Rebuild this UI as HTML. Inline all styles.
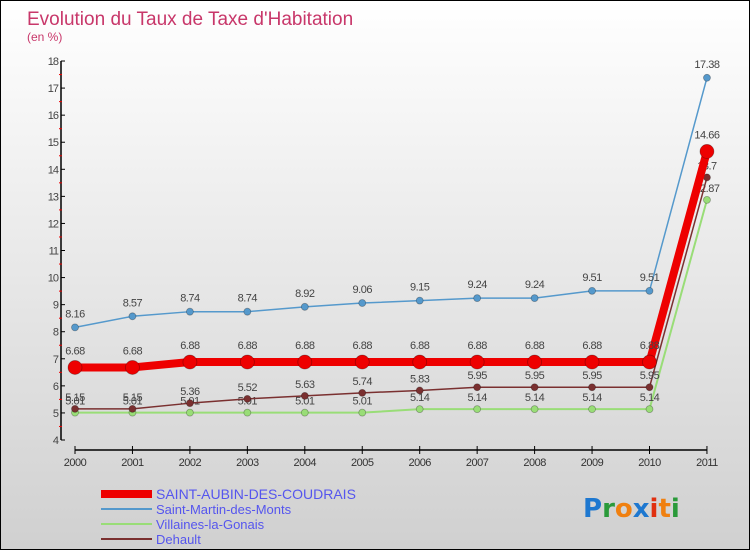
<!DOCTYPE html>
<html><head><meta charset="utf-8"><style>
body{margin:0}
#c{width:750px;height:550px;position:relative;box-sizing:border-box;border:1px solid #000;background:linear-gradient(#fff,#d0d0d0);font-family:"Liberation Sans",sans-serif;overflow:hidden}
</style></head><body>
<div id="c">
<svg id="s" width="748" height="548" style="position:absolute;left:0;top:0"></svg>
</div>
<script>
const years=["2000","2001","2002","2003","2004","2005","2006","2007","2008","2009","2010","2011"];
const aubin=[6.68,6.68,6.88,6.88,6.88,6.88,6.88,6.88,6.88,6.88,6.88,14.66];
const martin=[8.16,8.57,8.74,8.74,8.92,9.06,9.15,9.24,9.24,9.51,9.51,17.38];
const villaines=[5.01,5.01,5.01,5.01,5.01,5.01,5.14,5.14,5.14,5.14,5.14,12.87];
const dehault=[5.15,5.15,5.36,5.52,5.63,5.74,5.83,5.95,5.95,5.95,5.95,13.7];
const yTicks=[4,5,6,7,8,9,10,11,12,13,14,15,16,17,18];
const NS="http://www.w3.org/2000/svg";
const svg=document.getElementById('s');
function X(i){return 74+i*57.45;}
function Y(v){return 439-(v-4)*27.07;}
function el(t,a,txt){const e=document.createElementNS(NS,t);for(const k in a)e.setAttribute(k,a[k]);if(txt!==undefined)e.textContent=txt;svg.appendChild(e);return e;}
let e;
e=el('text',{x:26,y:24,'font-size':19,fill:'#c8376a'},"Evolution du Taux de Taxe d'Habitation");


e=el('text',{x:26,y:40,'font-size':12,fill:'#c8376a'},"(en %)");


e=el('line',{x1:60,y1:Y(18),x2:60,y2:Y(4),stroke:'#000','stroke-width':1.5});


e=el('line',{x1:74,y1:449,x2:X(11),y2:449,stroke:'#000','stroke-width':1.5});


yTicks.forEach((v,i)=>{
 e=el('line',{x1:60,y1:Y(v),x2:64,y2:Y(v),stroke:'#000'});
 
 
 e=el('text',{x:57,y:Y(v)+4,'font-size':11,fill:'#444','text-anchor':'end','letter-spacing':'-1'},String(v));
 
 
 if(i<yTicks.length-1){e=el('line',{x1:58,y1:Y(v+0.5),x2:61,y2:Y(v+0.5),stroke:'#e00'});
 
 }
});
years.forEach((y,i)=>{
 e=el('line',{x1:X(i),y1:445,x2:X(i),y2:453,stroke:'#000'});
 
 
 e=el('text',{x:X(i),y:465,'font-size':11,fill:'#333','text-anchor':'middle','letter-spacing':'-0.5'},y);
 
 
});
const series=[
 {d:villaines,c:'#99dd77',w:2,r:3.5,n:'villaines-la-gonais',dy:-8},
 {d:dehault,c:'#7a3030',w:1.5,r:3.5,n:'dehault',dy:-8},
 {d:martin,c:'#5599cc',w:1.5,r:3.5,n:'saint-martin-des-monts',dy:-10},
 {d:aubin,c:'#ee0000',w:8,r:7,n:'saint-aubin-des-coudrais',dy:-13}
];
series.forEach(s=>{
 e=el('polyline',{points:s.d.map((v,i)=>X(i)+','+Y(v)).join(' '),fill:'none',stroke:s.c,'stroke-width':s.w,'stroke-linejoin':'round'});
 
 
 s.d.forEach((v,i)=>{
  e=el('circle',{cx:X(i),cy:Y(v),r:s.r,fill:s.c,stroke:'rgba(0,0,0,0.3)','stroke-width':0.8});
  
  
  e=el('text',{x:X(i),y:Y(v)+s.dy,'font-size':11,fill:'#444','text-anchor':'middle','letter-spacing':'-0.5'},String(v));
  
  
 });
});
const leg=[['SAINT-AUBIN-DES-COUDRAIS','#ee0000',8,14],['Saint-Martin-des-Monts','#5599cc',2,13],['Villaines-la-Gonais','#99dd77',2,13],['Dehault','#7a3030',2,13]];
leg.forEach((l,i)=>{
 const y=493+i*15;
 e=el('line',{x1:100,y1:y,x2:151,y2:y,stroke:l[1],'stroke-width':l[2]});
 
 
 e=el('text',{x:155,y:y+5,'font-size':l[3],fill:'#5555ee'},l[0]);
 
 
});
const logo=[['P','#1e78d0'],['r','#2a9a3a'],['o','#f08010'],['x','#1e78d0'],['i','#e03010'],['t','#f08010'],['i','#2a9a3a']];
e=el('text',{x:582,y:516,'font-size':26,'font-weight':'bold','font-family':'DejaVu Sans, sans-serif'});


logo.forEach(p=>{const t=document.createElementNS(NS,'tspan');t.setAttribute('fill',p[1]);t.textContent=p[0];e.appendChild(t);});
</script>
</body></html>
